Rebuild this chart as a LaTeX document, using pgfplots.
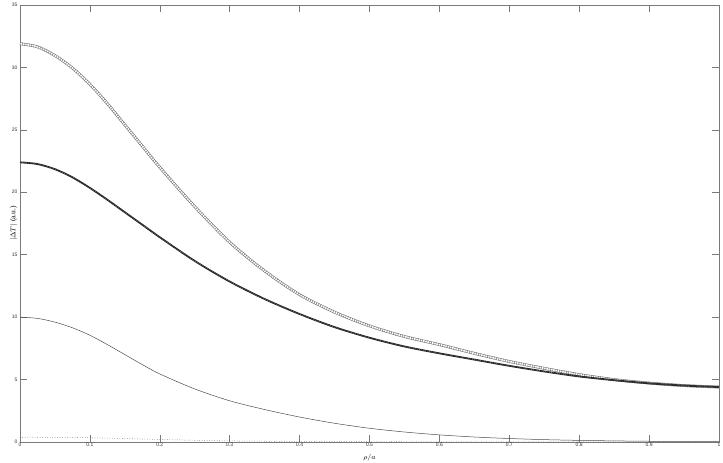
\documentclass[border=0pt]{standalone}
\usepackage{fontspec}
\setmainfont{Liberation Sans}
\newfontfamily\labelfont{Liberation Serif}
\usepackage{pgfplots}
\pgfplotsset{compat=1.18}
\usetikzlibrary{calc}

\definecolor{axisgray}{HTML}{7A7A7A}
\definecolor{ringgray}{HTML}{6E6E6E}

\pgfplotstableread{
x     top    mid    thin   dot
0.000 31.9   22.4   10.0   0.38
0.025 31.65  22.26  9.9    0.38
0.050 30.95  21.85  9.6    0.37
0.075 29.95  21.2   9.15   0.36
0.100 28.65  20.35  8.55   0.34
0.125 27.1   19.4   7.8    0.31
0.150 25.4   18.4   7.0    0.28
0.175 23.7   17.4   6.2    0.24
0.200 22.0   16.4   5.45   0.20
0.25  18.85  14.5   4.25   0.14
0.30  16.0   12.85  3.3    0.09
0.35  13.7   11.45  2.6    0.06
0.40  11.8   10.25  2.0    0.04
0.45  10.4   9.2    1.5    0.03
0.50  9.3    8.35   1.1    0.02
0.55  8.45   7.65   0.8    0.02
0.60  7.8    7.1    0.57   0.01
0.65  7.1    6.6    0.4    0.01
0.70  6.45   6.1    0.28   0.01
0.75  5.9    5.65   0.19   0.01
0.80  5.4    5.25   0.13   0.01
0.85  5.0    4.95   0.09   0.01
0.90  4.72   4.7    0.06   0.01
0.95  4.52   4.52   0.04   0.01
1.00  4.4    4.4    0.03   0.01
}\datatable

\begin{document}
\begin{tikzpicture}
\begin{axis}[
  scale only axis,
  width=699bp,
  height=437bp,
  xmin=0, xmax=1,
  ymin=0, ymax=35,
  xtick={0,0.1,...,1},
  ytick={0,5,...,35},
  tick align=inside,
  major tick length=7bp,
  axis line style={axisgray, line width=0.6bp},
  every tick/.style={axisgray, line width=0.6bp},
  tick label style={font=\fontsize{5}{6}\selectfont, text=black!80},
  /pgf/number format/assume math mode=true,
  xticklabel style={yshift=2bp},
  yticklabel style={xshift=1bp},
  xlabel={$\rho/a$},
  ylabel={$|\Delta T|$ {\labelfont (a.u.)}},
  label style={font=\fontsize{7.5}{9}\selectfont},
  xlabel style={yshift=0bp},
  ylabel style={yshift=-12bp},
  clip=false,
]
% top curve: chain of small open circles (outline, hollow core, cross bars)
\addplot[ringgray, line width=2.7bp, smooth] table[x=x, y=top] {\datatable};
\addplot[white, line width=1.7bp, smooth] table[x=x, y=top] {\datatable};
\addplot[ringgray, line width=2.6bp, smooth, dash pattern=on 0.45bp off 1.85bp] table[x=x, y=top] {\datatable};
% middle curve: dark dense markers
\addplot[black!85, line width=1.8bp, smooth] table[x=x, y=mid] {\datatable};
\addplot[black!45, line width=0.6bp, smooth, dash pattern=on 0.5bp off 1.5bp] table[x=x, y=mid] {\datatable};
% thin solid curve
\addplot[black!70, line width=0.5bp, smooth] table[x=x, y=thin] {\datatable};
% dotted curve
\addplot[black!75, line width=0.5bp, dotted, smooth] table[x=x, y=dot] {\datatable};
\end{axis}
\pgfresetboundingbox
\path ($(current axis.south west)+(-20bp,-21bp)$) rectangle ($(current axis.north east)+(4bp,5bp)$);
\end{tikzpicture}
\end{document}
